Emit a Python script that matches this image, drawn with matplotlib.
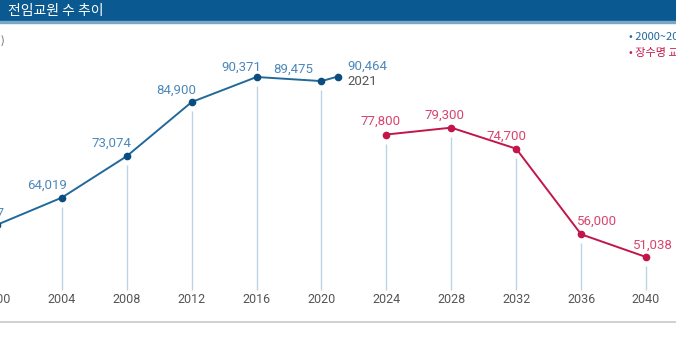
import matplotlib
matplotlib.use('Agg')
import matplotlib.pyplot as plt
import numpy as np

# data
years_actual = [2000, 2004, 2008, 2012, 2016, 2020, 2021]
teachers_actual = [58077, 64019, 73074, 84900, 90371, 89475, 90464]
labels_actual = ['58,077', '64,019', '73,074', '84,900', '90,371', '89,475', '90,464']

years_proj = [2024, 2028, 2032, 2036, 2040]
teachers_proj = [77800, 79300, 74700, 56000, 51038]
labels_proj = ['77,800', '79,300', '74,700', '56,000', '51,038']

tick_years = [2000, 2004, 2008, 2012, 2016, 2020, 2024, 2028, 2032, 2036, 2040]

title = '전임교원 수 추이'
legend_items = ['• 2000~2021년 전임교원 수', '• 장수명 교원 추계']

blue = '#22699b'
blue_dot = '#0b4d80'
blue_txt = '#4d88ba'
red = '#c2164a'
red_txt = '#d8456e'
stem_col = '#bcd4e6'

fig = plt.figure(figsize=(6.76, 3.39), dpi=100)
ax = fig.add_axes([0, 0, 1, 1])
ax.set_xlim(2000.185, 2041.85)
ax.set_ylim(33116, 107198)
ax.axis('off')

base = 43824
gap = 2000
# stems under the points
for x, y in zip(years_actual[:-1], teachers_actual[:-1]):
    ax.vlines(x, base, y - gap, color=stem_col, lw=1.0, zorder=1)
for x, y in zip(years_proj, teachers_proj):
    ax.vlines(x, base, y - gap, color=stem_col, lw=1.0, zorder=1)

ax.plot(years_actual, teachers_actual, color=blue, lw=1.4, zorder=2)
ax.plot(years_actual, teachers_actual, 'o', color=blue_dot, ms=4.5, zorder=3)
ax.plot(years_proj, teachers_proj, color=red, lw=1.4, zorder=2)
ax.plot(years_proj, teachers_proj, 'o', color=red, ms=4.5, zorder=3)

font = 'Roboto'
fs = 9.5
offs_a = [(-12, 12), (-15, 12), (-15, 13), (-15, 12), (-15, 10), (-28, 12)]
for x, y, s, o in zip(years_actual[:-1], teachers_actual[:-1], labels_actual[:-1], offs_a):
    ax.annotate(s, (x, y), xytext=o, textcoords='offset pixels', ha='center', va='center',
                fontsize=fs, color=blue_txt, family=font, annotation_clip=False)
ax.annotate(labels_actual[-1], (years_actual[-1], teachers_actual[-1]), xytext=(10, 10),
            textcoords='offset pixels', ha='left', va='center', fontsize=fs, color=blue_txt, family=font)
ax.annotate(str(years_actual[-1]), (years_actual[-1], teachers_actual[-1]), xytext=(10, -5),
            textcoords='offset pixels', ha='left', va='center', fontsize=fs, color='#555555', family=font)

offs_p = [(-6, 13), (-7, 12), (-10, 12), (16, 13), (7, 12)]
for x, y, s, o in zip(years_proj, teachers_proj, labels_proj, offs_p):
    ax.annotate(s, (x, y), xytext=o, textcoords='offset pixels', ha='center', va='center',
                fontsize=fs, color=red_txt, family=font)

# year labels
for yr in tick_years:
    ax.text(yr, 41639, str(yr), ha='center', va='center', fontsize=9, color='#555555', family=font)

# bottom rule
ax.axhline(36830, color='#c8c8c8', lw=1.2)

# header band
fig.patches.append(plt.Rectangle((0, 1 - 21 / 339), 1, 21 / 339, transform=fig.transFigure,
                                 color='#0a5990', zorder=0))
fig.patches.append(plt.Rectangle((0, 1 - 22.5 / 339), 1, 1.5 / 339, transform=fig.transFigure,
                                 color='#7aa6c8', zorder=0))
fig.text(8 / 676, 1 - 11 / 339, title, color='white', fontsize=10, va='center', ha='left',
         family=['Noto Sans CJK KR', 'DejaVu Sans'])

# unit label (cropped)
fig.text(5 / 676, 1 - 40 / 339, '(명)', color='#555555', fontsize=7.5, va='center', ha='right',
         family=['Noto Sans CJK KR', 'DejaVu Sans'])

# legend (cropped at right)
fig.text(629 / 676, 1 - 37 / 339, legend_items[0], color=blue, fontsize=8, va='center', ha='left',
         family=['Noto Sans CJK KR', 'DejaVu Sans'])
fig.text(629 / 676, 1 - 53 / 339, legend_items[1], color=red, fontsize=8, va='center', ha='left',
         family=['Noto Sans CJK KR', 'DejaVu Sans'])

fig.savefig('out.png', dpi=100)
